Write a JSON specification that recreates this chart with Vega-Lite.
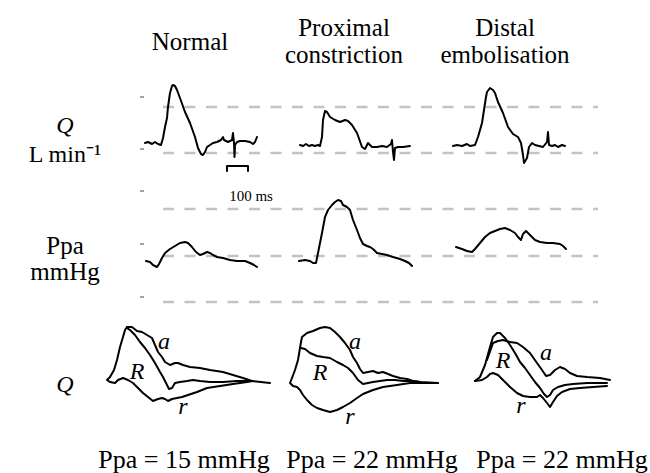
{
  "$schema": "https://vega.github.io/schema/vega-lite/v6.json",
  "width": 650,
  "height": 473,
  "autosize": {"type": "fit", "contains": "padding"},
  "padding": 0,
  "background": "white",
  "config": {"view": {"stroke": null}, "font": "Liberation Serif"},
  "datasets": {
    "dashes": [
      {"x": 163, "x2": 598, "y": 107},
      {"x": 163, "x2": 598, "y": 153},
      {"x": 163, "x2": 598, "y": 209},
      {"x": 163, "x2": 598, "y": 256},
      {"x": 163, "x2": 598, "y": 302}
    ],
    "ticks": [
      {"x": 140, "x2": 144, "y": 97},
      {"x": 140, "x2": 144, "y": 149},
      {"x": 140, "x2": 144, "y": 191},
      {"x": 140, "x2": 144, "y": 244},
      {"x": 140, "x2": 144, "y": 297}
    ],
    "curves": [
      {"s":"qN","i":1,"x":145,"y":143},{"s":"qN","i":2,"x":148,"y":142},{"s":"qN","i":3,"x":152,"y":144},{"s":"qN","i":4,"x":155,"y":142},{"s":"qN","i":5,"x":158,"y":144},{"s":"qN","i":6,"x":161,"y":145},{"s":"qN","i":7,"x":163,"y":138},{"s":"qN","i":8,"x":165,"y":127},{"s":"qN","i":9,"x":167,"y":118},{"s":"qN","i":10,"x":168,"y":107},{"s":"qN","i":11,"x":170,"y":93},{"s":"qN","i":12,"x":172,"y":86},{"s":"qN","i":13,"x":173,"y":85},{"s":"qN","i":14,"x":175,"y":86},{"s":"qN","i":15,"x":177,"y":90},{"s":"qN","i":16,"x":180,"y":98},{"s":"qN","i":17,"x":185,"y":112},{"s":"qN","i":18,"x":190,"y":123},{"s":"qN","i":19,"x":195,"y":137},{"s":"qN","i":20,"x":198,"y":148},{"s":"qN","i":21,"x":201,"y":154},{"s":"qN","i":22,"x":203,"y":155},{"s":"qN","i":23,"x":205,"y":152},{"s":"qN","i":24,"x":207,"y":147},{"s":"qN","i":25,"x":210,"y":145},{"s":"qN","i":26,"x":213,"y":143},{"s":"qN","i":27,"x":217,"y":142},{"s":"qN","i":28,"x":221,"y":140},{"s":"qN","i":29,"x":223,"y":137},{"s":"qN","i":30,"x":224,"y":140},{"s":"qN","i":31,"x":228,"y":142},{"s":"qN","i":32,"x":232,"y":140},{"s":"qN","i":33,"x":233,"y":133},{"s":"qN","i":34,"x":234,"y":143},{"s":"qN","i":35,"x":234.5,"y":157},{"s":"qN","i":36,"x":235,"y":145},{"s":"qN","i":37,"x":237,"y":142},{"s":"qN","i":38,"x":240,"y":141},{"s":"qN","i":39,"x":245,"y":141},{"s":"qN","i":40,"x":250,"y":142},{"s":"qN","i":41,"x":253,"y":144},{"s":"qN","i":42,"x":255,"y":142},{"s":"qN","i":43,"x":257,"y":137},
      {"s":"qP","i":1,"x":300,"y":145},{"s":"qP","i":2,"x":303,"y":146},{"s":"qP","i":3,"x":306,"y":144},{"s":"qP","i":4,"x":309,"y":146},{"s":"qP","i":5,"x":312,"y":145},{"s":"qP","i":6,"x":315,"y":146},{"s":"qP","i":7,"x":318,"y":145},{"s":"qP","i":8,"x":320,"y":146},{"s":"qP","i":9,"x":322,"y":137},{"s":"qP","i":10,"x":323,"y":120},{"s":"qP","i":11,"x":325,"y":111},{"s":"qP","i":12,"x":327,"y":112},{"s":"qP","i":13,"x":330,"y":117},{"s":"qP","i":14,"x":335,"y":120},{"s":"qP","i":15,"x":340,"y":122},{"s":"qP","i":16,"x":345,"y":120},{"s":"qP","i":17,"x":348,"y":121},{"s":"qP","i":18,"x":352,"y":125},{"s":"qP","i":19,"x":357,"y":133},{"s":"qP","i":20,"x":362,"y":147},{"s":"qP","i":21,"x":365,"y":149},{"s":"qP","i":22,"x":368,"y":143},{"s":"qP","i":23,"x":372,"y":147},{"s":"qP","i":24,"x":377,"y":147},{"s":"qP","i":25,"x":382,"y":146},{"s":"qP","i":26,"x":387,"y":147},{"s":"qP","i":27,"x":391,"y":144},{"s":"qP","i":28,"x":392,"y":140},{"s":"qP","i":29,"x":393,"y":152},{"s":"qP","i":30,"x":394,"y":160},{"s":"qP","i":31,"x":395,"y":148},{"s":"qP","i":32,"x":398,"y":147},{"s":"qP","i":33,"x":403,"y":147},{"s":"qP","i":34,"x":410,"y":146},
      {"s":"qD","i":1,"x":453,"y":146},{"s":"qD","i":2,"x":457,"y":145},{"s":"qD","i":3,"x":462,"y":146},{"s":"qD","i":4,"x":467,"y":144},{"s":"qD","i":5,"x":470,"y":146},{"s":"qD","i":6,"x":475,"y":145},{"s":"qD","i":7,"x":478,"y":137},{"s":"qD","i":8,"x":482,"y":123},{"s":"qD","i":9,"x":484,"y":110},{"s":"qD","i":10,"x":486,"y":97},{"s":"qD","i":11,"x":487,"y":92},{"s":"qD","i":12,"x":490,"y":88},{"s":"qD","i":13,"x":493,"y":90},{"s":"qD","i":14,"x":495,"y":93},{"s":"qD","i":15,"x":498,"y":102},{"s":"qD","i":16,"x":503,"y":113},{"s":"qD","i":17,"x":508,"y":127},{"s":"qD","i":18,"x":513,"y":134},{"s":"qD","i":19,"x":518,"y":137},{"s":"qD","i":20,"x":521,"y":143},{"s":"qD","i":21,"x":523,"y":155},{"s":"qD","i":22,"x":524,"y":163},{"s":"qD","i":23,"x":527,"y":158},{"s":"qD","i":24,"x":529,"y":147},{"s":"qD","i":25,"x":532,"y":143},{"s":"qD","i":26,"x":535,"y":145},{"s":"qD","i":27,"x":539,"y":146},{"s":"qD","i":28,"x":543,"y":147},{"s":"qD","i":29,"x":547,"y":142},{"s":"qD","i":30,"x":548,"y":132},{"s":"qD","i":31,"x":549,"y":145},{"s":"qD","i":32,"x":552,"y":146},{"s":"qD","i":33,"x":555,"y":145},{"s":"qD","i":34,"x":558,"y":147},{"s":"qD","i":35,"x":562,"y":145},{"s":"qD","i":36,"x":565,"y":146},
      {"s":"pN","i":1,"x":146,"y":261},{"s":"pN","i":2,"x":150,"y":262},{"s":"pN","i":3,"x":153,"y":265},{"s":"pN","i":4,"x":157,"y":267},{"s":"pN","i":5,"x":159,"y":264},{"s":"pN","i":6,"x":162,"y":258},{"s":"pN","i":7,"x":165,"y":253},{"s":"pN","i":8,"x":170,"y":249},{"s":"pN","i":9,"x":175,"y":246},{"s":"pN","i":10,"x":180,"y":243},{"s":"pN","i":11,"x":185,"y":242},{"s":"pN","i":12,"x":188,"y":243},{"s":"pN","i":13,"x":192,"y":247},{"s":"pN","i":14,"x":196,"y":252},{"s":"pN","i":15,"x":200,"y":255},{"s":"pN","i":16,"x":203,"y":254},{"s":"pN","i":17,"x":207,"y":252},{"s":"pN","i":18,"x":210,"y":253},{"s":"pN","i":19,"x":213,"y":255},{"s":"pN","i":20,"x":217,"y":257},{"s":"pN","i":21,"x":223,"y":258},{"s":"pN","i":22,"x":230,"y":260},{"s":"pN","i":23,"x":237,"y":261},{"s":"pN","i":24,"x":245,"y":261},{"s":"pN","i":25,"x":250,"y":263},{"s":"pN","i":26,"x":254,"y":265},{"s":"pN","i":27,"x":257,"y":267},
      {"s":"pP","i":1,"x":299,"y":261},{"s":"pP","i":2,"x":305,"y":260},{"s":"pP","i":3,"x":310,"y":261},{"s":"pP","i":4,"x":313,"y":263},{"s":"pP","i":5,"x":316,"y":263},{"s":"pP","i":6,"x":318,"y":253},{"s":"pP","i":7,"x":322,"y":233},{"s":"pP","i":8,"x":325,"y":217},{"s":"pP","i":9,"x":328,"y":210},{"s":"pP","i":10,"x":332,"y":205},{"s":"pP","i":11,"x":335,"y":202},{"s":"pP","i":12,"x":338,"y":200},{"s":"pP","i":13,"x":341,"y":201},{"s":"pP","i":14,"x":343,"y":205},{"s":"pP","i":15,"x":347,"y":207},{"s":"pP","i":16,"x":350,"y":210},{"s":"pP","i":17,"x":353,"y":220},{"s":"pP","i":18,"x":357,"y":230},{"s":"pP","i":19,"x":360,"y":238},{"s":"pP","i":20,"x":363,"y":244},{"s":"pP","i":21,"x":367,"y":246},{"s":"pP","i":22,"x":370,"y":247},{"s":"pP","i":23,"x":373,"y":249},{"s":"pP","i":24,"x":377,"y":253},{"s":"pP","i":25,"x":382,"y":254},{"s":"pP","i":26,"x":387,"y":255},{"s":"pP","i":27,"x":393,"y":257},{"s":"pP","i":28,"x":400,"y":259},{"s":"pP","i":29,"x":405,"y":261},{"s":"pP","i":30,"x":409,"y":263},{"s":"pP","i":31,"x":412,"y":266},
      {"s":"pD","i":1,"x":456,"y":247},{"s":"pD","i":2,"x":462,"y":249},{"s":"pD","i":3,"x":467,"y":251},{"s":"pD","i":4,"x":472,"y":252},{"s":"pD","i":5,"x":475,"y":249},{"s":"pD","i":6,"x":480,"y":243},{"s":"pD","i":7,"x":485,"y":237},{"s":"pD","i":8,"x":490,"y":233},{"s":"pD","i":9,"x":495,"y":231},{"s":"pD","i":10,"x":500,"y":229},{"s":"pD","i":11,"x":505,"y":228},{"s":"pD","i":12,"x":510,"y":230},{"s":"pD","i":13,"x":515,"y":233},{"s":"pD","i":14,"x":518,"y":237},{"s":"pD","i":15,"x":521,"y":240},{"s":"pD","i":16,"x":523,"y":234},{"s":"pD","i":17,"x":526,"y":231},{"s":"pD","i":18,"x":528,"y":233},{"s":"pD","i":19,"x":532,"y":237},{"s":"pD","i":20,"x":535,"y":240},{"s":"pD","i":21,"x":540,"y":242},{"s":"pD","i":22,"x":547,"y":243},{"s":"pD","i":23,"x":553,"y":243},{"s":"pD","i":24,"x":560,"y":244},{"s":"pD","i":25,"x":563,"y":246},{"s":"pD","i":26,"x":566,"y":249},
      {"s":"bar","i":1,"x":227,"y":171},{"s":"bar","i":2,"x":227,"y":166},{"s":"bar","i":3,"x":248,"y":166},{"s":"bar","i":4,"x":248,"y":171},
      {"s":"LNa","i":1,"x":127,"y":327},{"s":"LNa","i":2,"x":132,"y":327},{"s":"LNa","i":3,"x":137,"y":331},{"s":"LNa","i":4,"x":142,"y":332},{"s":"LNa","i":5,"x":147,"y":335},{"s":"LNa","i":6,"x":152,"y":338},{"s":"LNa","i":7,"x":155,"y":345},{"s":"LNa","i":8,"x":158,"y":352},{"s":"LNa","i":9,"x":162,"y":357},{"s":"LNa","i":10,"x":165,"y":362},{"s":"LNa","i":11,"x":170,"y":365},{"s":"LNa","i":12,"x":175,"y":363},{"s":"LNa","i":13,"x":178,"y":363},{"s":"LNa","i":14,"x":183,"y":365},{"s":"LNa","i":15,"x":190,"y":367},{"s":"LNa","i":16,"x":200,"y":368},{"s":"LNa","i":17,"x":210,"y":370},{"s":"LNa","i":18,"x":223,"y":372},{"s":"LNa","i":19,"x":233,"y":375},{"s":"LNa","i":20,"x":243,"y":378},{"s":"LNa","i":21,"x":252,"y":381},{"s":"LNa","i":22,"x":270,"y":383},
      {"s":"LNr","i":1,"x":127,"y":327},{"s":"LNr","i":2,"x":125,"y":330},{"s":"LNr","i":3,"x":123,"y":337},{"s":"LNr","i":4,"x":120,"y":347},{"s":"LNr","i":5,"x":117,"y":360},{"s":"LNr","i":6,"x":114,"y":370},{"s":"LNr","i":7,"x":110,"y":377},{"s":"LNr","i":8,"x":107,"y":380},{"s":"LNr","i":9,"x":110,"y":382},{"s":"LNr","i":10,"x":115,"y":383},{"s":"LNr","i":11,"x":118,"y":380},{"s":"LNr","i":12,"x":123,"y":378},{"s":"LNr","i":13,"x":128,"y":380},{"s":"LNr","i":14,"x":133,"y":383},{"s":"LNr","i":15,"x":138,"y":388},{"s":"LNr","i":16,"x":143,"y":393},{"s":"LNr","i":17,"x":148,"y":397},{"s":"LNr","i":18,"x":153,"y":401},{"s":"LNr","i":19,"x":158,"y":399},{"s":"LNr","i":20,"x":162,"y":398},{"s":"LNr","i":21,"x":165,"y":399},{"s":"LNr","i":22,"x":168,"y":401},{"s":"LNr","i":23,"x":172,"y":399},{"s":"LNr","i":24,"x":177,"y":398},{"s":"LNr","i":25,"x":182,"y":397},{"s":"LNr","i":26,"x":188,"y":395},{"s":"LNr","i":27,"x":197,"y":392},{"s":"LNr","i":28,"x":207,"y":388},{"s":"LNr","i":29,"x":220,"y":386},{"s":"LNr","i":30,"x":233,"y":384},{"s":"LNr","i":31,"x":247,"y":382},{"s":"LNr","i":32,"x":253,"y":381},
      {"s":"LNR","i":1,"x":127,"y":328},{"s":"LNR","i":2,"x":130,"y":330},{"s":"LNR","i":3,"x":135,"y":335},{"s":"LNR","i":4,"x":140,"y":342},{"s":"LNR","i":5,"x":145,"y":348},{"s":"LNR","i":6,"x":150,"y":355},{"s":"LNR","i":7,"x":155,"y":363},{"s":"LNR","i":8,"x":160,"y":372},{"s":"LNR","i":9,"x":163,"y":377},{"s":"LNR","i":10,"x":167,"y":385},{"s":"LNR","i":11,"x":169,"y":389},{"s":"LNR","i":12,"x":172,"y":388},{"s":"LNR","i":13,"x":175,"y":383},{"s":"LNR","i":14,"x":180,"y":382},{"s":"LNR","i":15,"x":187,"y":381},{"s":"LNR","i":16,"x":193,"y":380},{"s":"LNR","i":17,"x":200,"y":381},{"s":"LNR","i":18,"x":210,"y":382},{"s":"LNR","i":19,"x":223,"y":382},{"s":"LNR","i":20,"x":237,"y":381},{"s":"LNR","i":21,"x":252,"y":381},
      {"s":"LPa","i":1,"x":301,"y":342},{"s":"LPa","i":2,"x":302,"y":337},{"s":"LPa","i":3,"x":307,"y":333},{"s":"LPa","i":4,"x":313,"y":331},{"s":"LPa","i":5,"x":320,"y":328},{"s":"LPa","i":6,"x":325,"y":327},{"s":"LPa","i":7,"x":330,"y":328},{"s":"LPa","i":8,"x":335,"y":332},{"s":"LPa","i":9,"x":340,"y":337},{"s":"LPa","i":10,"x":345,"y":343},{"s":"LPa","i":11,"x":350,"y":350},{"s":"LPa","i":12,"x":353,"y":357},{"s":"LPa","i":13,"x":357,"y":363},{"s":"LPa","i":14,"x":360,"y":369},{"s":"LPa","i":15,"x":363,"y":373},{"s":"LPa","i":16,"x":368,"y":372},{"s":"LPa","i":17,"x":373,"y":371},{"s":"LPa","i":18,"x":378,"y":373},{"s":"LPa","i":19,"x":383,"y":372},{"s":"LPa","i":20,"x":388,"y":374},{"s":"LPa","i":21,"x":393,"y":376},{"s":"LPa","i":22,"x":400,"y":378},{"s":"LPa","i":23,"x":407,"y":379},{"s":"LPa","i":24,"x":413,"y":381},{"s":"LPa","i":25,"x":420,"y":382},{"s":"LPa","i":26,"x":438,"y":383},
      {"s":"LPr","i":1,"x":301,"y":342},{"s":"LPr","i":2,"x":300,"y":348},{"s":"LPr","i":3,"x":298,"y":360},{"s":"LPr","i":4,"x":295,"y":370},{"s":"LPr","i":5,"x":292,"y":378},{"s":"LPr","i":6,"x":290,"y":383},{"s":"LPr","i":7,"x":293,"y":386},{"s":"LPr","i":8,"x":297,"y":387},{"s":"LPr","i":9,"x":300,"y":390},{"s":"LPr","i":10,"x":303,"y":395},{"s":"LPr","i":11,"x":307,"y":400},{"s":"LPr","i":12,"x":312,"y":405},{"s":"LPr","i":13,"x":317,"y":408},{"s":"LPr","i":14,"x":323,"y":410},{"s":"LPr","i":15,"x":330,"y":412},{"s":"LPr","i":16,"x":337,"y":410},{"s":"LPr","i":17,"x":343,"y":407},{"s":"LPr","i":18,"x":350,"y":403},{"s":"LPr","i":19,"x":357,"y":398},{"s":"LPr","i":20,"x":363,"y":394},{"s":"LPr","i":21,"x":373,"y":390},{"s":"LPr","i":22,"x":383,"y":387},{"s":"LPr","i":23,"x":397,"y":385},{"s":"LPr","i":24,"x":410,"y":383},{"s":"LPr","i":25,"x":420,"y":383},{"s":"LPr","i":26,"x":438,"y":383},
      {"s":"LPR","i":1,"x":301,"y":348},{"s":"LPR","i":2,"x":305,"y":349},{"s":"LPR","i":3,"x":310,"y":353},{"s":"LPR","i":4,"x":317,"y":356},{"s":"LPR","i":5,"x":323,"y":357},{"s":"LPR","i":6,"x":330,"y":358},{"s":"LPR","i":7,"x":337,"y":362},{"s":"LPR","i":8,"x":343,"y":365},{"s":"LPR","i":9,"x":348,"y":368},{"s":"LPR","i":10,"x":353,"y":373},{"s":"LPR","i":11,"x":358,"y":380},{"s":"LPR","i":12,"x":363,"y":384},{"s":"LPR","i":13,"x":368,"y":383},{"s":"LPR","i":14,"x":373,"y":382},{"s":"LPR","i":15,"x":380,"y":381},{"s":"LPR","i":16,"x":387,"y":380},{"s":"LPR","i":17,"x":395,"y":380},{"s":"LPR","i":18,"x":403,"y":381},{"s":"LPR","i":19,"x":413,"y":381},{"s":"LPR","i":20,"x":420,"y":382},
      {"s":"LDR","i":1,"x":475,"y":381},{"s":"LDR","i":2,"x":480,"y":377},{"s":"LDR","i":3,"x":485,"y":365},{"s":"LDR","i":4,"x":490,"y":347},{"s":"LDR","i":5,"x":493,"y":337},{"s":"LDR","i":6,"x":497,"y":333},{"s":"LDR","i":7,"x":500,"y":333},{"s":"LDR","i":8,"x":505,"y":338},{"s":"LDR","i":9,"x":510,"y":345},{"s":"LDR","i":10,"x":515,"y":353},{"s":"LDR","i":11,"x":520,"y":362},{"s":"LDR","i":12,"x":525,"y":368},{"s":"LDR","i":13,"x":530,"y":375},{"s":"LDR","i":14,"x":535,"y":382},{"s":"LDR","i":15,"x":540,"y":388},{"s":"LDR","i":16,"x":544,"y":394},{"s":"LDR","i":17,"x":547,"y":397},{"s":"LDR","i":18,"x":550,"y":395},{"s":"LDR","i":19,"x":553,"y":390},{"s":"LDR","i":20,"x":558,"y":387},{"s":"LDR","i":21,"x":565,"y":385},{"s":"LDR","i":22,"x":573,"y":384},{"s":"LDR","i":23,"x":587,"y":383},{"s":"LDR","i":24,"x":600,"y":383},{"s":"LDR","i":25,"x":607,"y":383},
      {"s":"LDa","i":1,"x":487,"y":360},{"s":"LDa","i":2,"x":493,"y":343},{"s":"LDa","i":3,"x":498,"y":341},{"s":"LDa","i":4,"x":503,"y":340},{"s":"LDa","i":5,"x":510,"y":342},{"s":"LDa","i":6,"x":517,"y":343},{"s":"LDa","i":7,"x":523,"y":347},{"s":"LDa","i":8,"x":530,"y":353},{"s":"LDa","i":9,"x":537,"y":363},{"s":"LDa","i":10,"x":542,"y":370},{"s":"LDa","i":11,"x":546,"y":376},{"s":"LDa","i":12,"x":550,"y":375},{"s":"LDa","i":13,"x":555,"y":370},{"s":"LDa","i":14,"x":560,"y":367},{"s":"LDa","i":15,"x":565,"y":369},{"s":"LDa","i":16,"x":570,"y":373},{"s":"LDa","i":17,"x":577,"y":376},{"s":"LDa","i":18,"x":587,"y":377},{"s":"LDa","i":19,"x":600,"y":378},{"s":"LDa","i":20,"x":610,"y":380},
      {"s":"LDr","i":1,"x":475,"y":381},{"s":"LDr","i":2,"x":482,"y":380},{"s":"LDr","i":3,"x":487,"y":377},{"s":"LDr","i":4,"x":490,"y":374},{"s":"LDr","i":5,"x":493,"y":373},{"s":"LDr","i":6,"x":498,"y":375},{"s":"LDr","i":7,"x":503,"y":380},{"s":"LDr","i":8,"x":510,"y":387},{"s":"LDr","i":9,"x":517,"y":393},{"s":"LDr","i":10,"x":523,"y":396},{"s":"LDr","i":11,"x":530,"y":397},{"s":"LDr","i":12,"x":537,"y":397},{"s":"LDr","i":13,"x":540,"y":395},{"s":"LDr","i":14,"x":543,"y":398},{"s":"LDr","i":15,"x":547,"y":403},{"s":"LDr","i":16,"x":550,"y":407},{"s":"LDr","i":17,"x":553,"y":402},{"s":"LDr","i":18,"x":557,"y":396},{"s":"LDr","i":19,"x":562,"y":392},{"s":"LDr","i":20,"x":570,"y":389},{"s":"LDr","i":21,"x":580,"y":388},{"s":"LDr","i":22,"x":593,"y":387},{"s":"LDr","i":23,"x":607,"y":386}
    ],
    "labels": [
      {"x": 190, "y": 42, "t": "Normal"},
      {"x": 344, "y": 28, "t": "Proximal"},
      {"x": 344, "y": 55, "t": "constriction"},
      {"x": 505, "y": 28, "t": "Distal"},
      {"x": 505, "y": 55, "t": "embolisation"},
      {"x": 65, "y": 246, "t": "Ppa"},
      {"x": 65, "y": 272, "t": "mmHg"}
    ],
    "unitq": [
      {"x": 65, "y": 155, "t": "L min⁻¹"}
    ],
    "bottom": [
      {"x": 184, "y": 460, "t": "Ppa = 15 mmHg"},
      {"x": 372, "y": 460, "t": "Ppa = 22 mmHg"},
      {"x": 562, "y": 460, "t": "Ppa = 22 mmHg"}
    ],
    "italics": [
      {"x": 65, "y": 126, "t": "Q"},
      {"x": 65, "y": 385, "t": "Q"},
      {"x": 164, "y": 342, "t": "a"},
      {"x": 137, "y": 372, "t": "R"},
      {"x": 183, "y": 407, "t": "r"},
      {"x": 355, "y": 342, "t": "a"},
      {"x": 320, "y": 373, "t": "R"},
      {"x": 350, "y": 417, "t": "r"},
      {"x": 546, "y": 353, "t": "a"},
      {"x": 503, "y": 361, "t": "R"},
      {"x": 521, "y": 406, "t": "r"}
    ],
    "small": [
      {"x": 251, "y": 196, "t": "100 ms"}
    ]
  },
  "encoding": {
    "x": {"field": "x", "type": "quantitative", "scale": {"domain": [0, 650], "nice": false, "zero": false}, "axis": null},
    "y": {"field": "y", "type": "quantitative", "scale": {"domain": [0, 473], "nice": false, "zero": false, "reverse": true}, "axis": null}
  },
  "layer": [
    {
      "data": {"name": "dashes"},
      "mark": {"type": "rule", "color": "#c3c3c3", "strokeWidth": 2.5, "strokeDash": [11, 10.5]},
      "encoding": {"x2": {"field": "x2"}}
    },
    {
      "data": {"name": "ticks"},
      "mark": {"type": "rule", "color": "#444444", "strokeWidth": 1},
      "encoding": {"x2": {"field": "x2"}}
    },
    {
      "data": {"name": "curves"},
      "mark": {"type": "line", "color": "black", "strokeWidth": 2, "strokeJoin": "round", "strokeCap": "round"},
      "encoding": {"detail": {"field": "s"}, "order": {"field": "i", "type": "quantitative"}}
    },
    {
      "data": {"name": "labels"},
      "mark": {"type": "text", "font": "Liberation Serif", "fontSize": 25, "color": "black", "align": "center", "baseline": "middle"},
      "encoding": {"text": {"field": "t"}}
    },
    {
      "data": {"name": "unitq"},
      "mark": {"type": "text", "font": "Liberation Serif", "fontSize": 24, "color": "black", "align": "center", "baseline": "middle"},
      "encoding": {"text": {"field": "t"}}
    },
    {
      "data": {"name": "bottom"},
      "mark": {"type": "text", "font": "Liberation Serif", "fontSize": 26, "color": "black", "align": "center", "baseline": "middle"},
      "encoding": {"text": {"field": "t"}}
    },
    {
      "data": {"name": "italics"},
      "mark": {"type": "text", "font": "Liberation Serif", "fontSize": 24, "fontStyle": "italic", "color": "black", "align": "center", "baseline": "middle"},
      "encoding": {"text": {"field": "t"}}
    },
    {
      "data": {"name": "small"},
      "mark": {"type": "text", "font": "Liberation Serif", "fontSize": 15, "color": "black", "align": "center", "baseline": "middle"},
      "encoding": {"text": {"field": "t"}}
    }
  ]
}
